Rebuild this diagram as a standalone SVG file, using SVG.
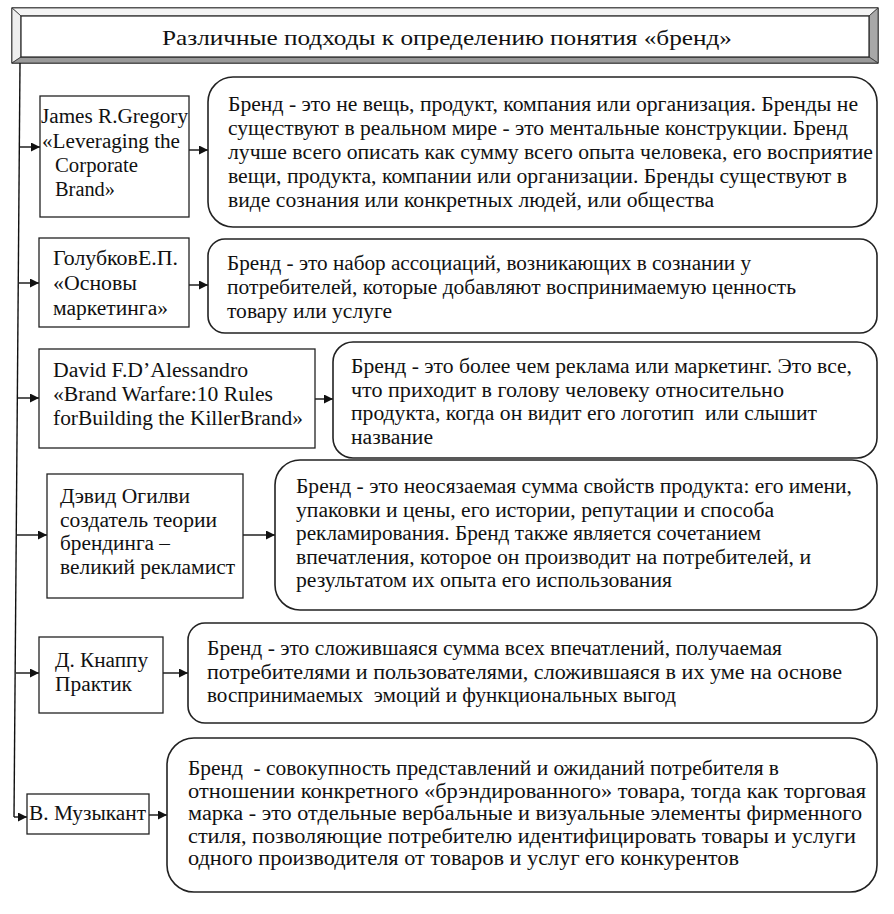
<svg xmlns="http://www.w3.org/2000/svg" width="894" height="914" viewBox="0 0 894 914">
<defs>
<style>
text{font-family:"Liberation Serif","Times New Roman",serif;fill:#111;}
.t{font-size:20px;}
.l{font-size:20px;}
.ttl{font-size:22px;}
.box{fill:#fff;stroke:#222;stroke-width:1.3;}
.rr{fill:#fff;stroke:#222;stroke-width:1.6;}
.c{stroke:#111;stroke-width:1.4;fill:none;}
.a{stroke:#111;stroke-width:1.4;fill:none;marker-end:url(#ah);}
</style>
<marker id="ah" markerUnits="userSpaceOnUse" markerWidth="10" markerHeight="10" refX="9" refY="4.5" orient="auto">
<path d="M0,0 L9,4.5 L0,9 z" fill="#111"/>
</marker>
</defs>
<rect width="894" height="914" fill="#fff"/>

<g id="title">
<rect x="12" y="8" width="866" height="55" fill="#fff" stroke="#222" stroke-width="1.3"/>
<polygon points="12,8 878,8 869,16 21,16" fill="#f4f4f4" stroke="#333" stroke-width="0.8"/>
<polygon points="12,8 21,16 21,57 12,63" fill="#eeeeee" stroke="#333" stroke-width="0.8"/>
<polygon points="878,8 878,63 869,57 869,16" fill="#a8a8a8" stroke="#333" stroke-width="0.8"/>
<polygon points="12,63 878,63 869,57 21,57" fill="#9a9a9a" stroke="#333" stroke-width="0.8"/>
<rect x="21" y="16" width="848" height="41" fill="#fff" stroke="#222" stroke-width="1.2"/>
<text class="ttl" x="162" y="45" textLength="570" lengthAdjust="spacingAndGlyphs">Различные подходы к определению понятия «бренд»</text>
</g>

<g id="connectors">
<polyline class="c" points="20,63 14,817"/>
<line class="a" x1="19.4" y1="147" x2="40" y2="147"/>
<line class="a" x1="19" y1="283" x2="39" y2="283"/>
<line class="a" x1="18" y1="398" x2="39" y2="398"/>
<line class="a" x1="17" y1="535" x2="47" y2="535"/>
<line class="a" x1="16" y1="673" x2="39" y2="673"/>
<line class="a" x1="14" y1="817" x2="27" y2="817"/>
<line class="a" x1="189" y1="150" x2="208" y2="150"/>
<line class="a" x1="189" y1="285" x2="208" y2="285"/>
<line class="a" x1="315" y1="399" x2="333" y2="399"/>
<line class="a" x1="243" y1="535" x2="275" y2="535"/>
<line class="a" x1="163" y1="673" x2="188" y2="673"/>
<line class="a" x1="149" y1="815" x2="167" y2="815"/>
</g>

<g id="src1">
<rect class="box" x="40" y="96" width="149" height="121"/>
<text class="l" x="41" y="123" textLength="147" lengthAdjust="spacingAndGlyphs">James R.Gregory</text>
<text class="l" x="42" y="148" textLength="138" lengthAdjust="spacingAndGlyphs">«Leveraging the</text>
<text class="l" x="55" y="172" textLength="83" lengthAdjust="spacingAndGlyphs">Corporate</text>
<text class="l" x="55" y="196" textLength="60" lengthAdjust="spacingAndGlyphs">Brand»</text>
</g>
<g id="def1">
<rect class="rr" x="208" y="77" width="669" height="150" rx="25" ry="25"/>
<text class="t" x="228" y="111" textLength="630" lengthAdjust="spacingAndGlyphs">Бренд - это не вещь, продукт, компания или организация. Бренды не</text>
<text class="t" x="228" y="135" textLength="620" lengthAdjust="spacingAndGlyphs">существуют в реальном мире - это ментальные конструкции. Бренд</text>
<text class="t" x="228" y="159" textLength="645" lengthAdjust="spacingAndGlyphs">лучше всего описать как сумму всего опыта человека, его восприятие</text>
<text class="t" x="228" y="183" textLength="619" lengthAdjust="spacingAndGlyphs">вещи, продукта, компании или организации. Бренды существуют в</text>
<text class="t" x="228" y="207" textLength="486" lengthAdjust="spacingAndGlyphs">виде сознания или конкретных людей, или общества</text>
</g>

<g id="src2">
<rect class="box" x="39" y="238" width="150" height="89"/>
<text class="l" x="53" y="265" textLength="125" lengthAdjust="spacingAndGlyphs">ГолубковЕ.П.</text>
<text class="l" x="53" y="290" textLength="84" lengthAdjust="spacingAndGlyphs">«Основы</text>
<text class="l" x="53" y="315" textLength="115" lengthAdjust="spacingAndGlyphs">маркетинга»</text>
</g>
<g id="def2">
<rect class="rr" x="208" y="239" width="669" height="94" rx="17" ry="17"/>
<text class="t" x="227" y="270" textLength="524" lengthAdjust="spacingAndGlyphs">Бренд - это набор ассоциаций, возникающих в сознании у</text>
<text class="t" x="227" y="294" textLength="569" lengthAdjust="spacingAndGlyphs">потребителей, которые добавляют воспринимаемую ценность</text>
<text class="t" x="227" y="318" textLength="165" lengthAdjust="spacingAndGlyphs">товару или услуге</text>
</g>

<g id="src3">
<rect class="box" x="39" y="349" width="276" height="99"/>
<text class="l" x="53" y="377" textLength="195" lengthAdjust="spacingAndGlyphs">David F.D’Alessandro</text>
<text class="l" x="53" y="401" textLength="220" lengthAdjust="spacingAndGlyphs">«Brand Warfare:10 Rules</text>
<text class="l" x="53" y="425" textLength="250" lengthAdjust="spacingAndGlyphs">forBuilding the KillerBrand»</text>
</g>
<g id="def3">
<rect class="rr" x="333" y="342" width="544" height="116" rx="20" ry="20"/>
<text class="t" x="351" y="373" textLength="501" lengthAdjust="spacingAndGlyphs">Бренд - это более чем реклама или маркетинг. Это все,</text>
<text class="t" x="351" y="397" textLength="433" lengthAdjust="spacingAndGlyphs">что приходит в голову человеку относительно</text>
<text class="t" x="351" y="420" textLength="466" lengthAdjust="spacingAndGlyphs" xml:space="preserve">продукта, когда он видит его логотип  или слышит</text>
<text class="t" x="351" y="444" textLength="82" lengthAdjust="spacingAndGlyphs">название</text>
</g>

<g id="src4">
<rect class="box" x="47" y="474" width="196" height="124"/>
<text class="l" x="60" y="503" textLength="130" lengthAdjust="spacingAndGlyphs">Дэвид Огилви</text>
<text class="l" x="60" y="527" textLength="157" lengthAdjust="spacingAndGlyphs">создатель теории</text>
<text class="l" x="60" y="550" textLength="110" lengthAdjust="spacingAndGlyphs">брендинга –</text>
<text class="l" x="60" y="574" textLength="175" lengthAdjust="spacingAndGlyphs">великий рекламист</text>
</g>
<g id="def4">
<rect class="rr" x="275" y="460" width="602" height="150" rx="25" ry="25"/>
<text class="t" x="296" y="493" textLength="556" lengthAdjust="spacingAndGlyphs">Бренд - это неосязаемая сумма свойств продукта: его имени,</text>
<text class="t" x="296" y="517" textLength="478" lengthAdjust="spacingAndGlyphs">упаковки и цены, его истории, репутации и способа</text>
<text class="t" x="296" y="540" textLength="465" lengthAdjust="spacingAndGlyphs">рекламирования. Бренд также является сочетанием</text>
<text class="t" x="296" y="564" textLength="515" lengthAdjust="spacingAndGlyphs">впечатления, которое он производит на потребителей, и</text>
<text class="t" x="296" y="587" textLength="376" lengthAdjust="spacingAndGlyphs">результатом их опыта его использования</text>
</g>

<g id="src5">
<rect class="box" x="39" y="637" width="124" height="76"/>
<text class="l" x="55" y="667" textLength="93" lengthAdjust="spacingAndGlyphs">Д. Кнаппу</text>
<text class="l" x="55" y="691" textLength="77" lengthAdjust="spacingAndGlyphs">Практик</text>
</g>
<g id="def5">
<rect class="rr" x="188" y="623" width="689" height="100" rx="17" ry="17"/>
<text class="t" x="207" y="655" textLength="575" lengthAdjust="spacingAndGlyphs">Бренд - это сложившаяся сумма всех впечатлений, получаемая</text>
<text class="t" x="207" y="679" textLength="635" lengthAdjust="spacingAndGlyphs">потребителями и пользователями, сложившаяся в их уме на основе</text>
<text class="t" x="207" y="702" textLength="469" lengthAdjust="spacingAndGlyphs" xml:space="preserve">воспринимаемых  эмоций и функциональных выгод</text>
</g>

<g id="src6">
<rect class="box" x="27" y="794" width="122" height="40"/>
<text class="l" x="29" y="820" textLength="117" lengthAdjust="spacingAndGlyphs">В. Музыкант</text>
</g>
<g id="def6">
<rect class="rr" x="167" y="738" width="710" height="154" rx="27" ry="27"/>
<text class="t" x="188" y="775" textLength="591" lengthAdjust="spacingAndGlyphs" xml:space="preserve">Бренд  - совокупность представлений и ожиданий потребителя в</text>
<text class="t" x="188" y="797.5" textLength="678" lengthAdjust="spacingAndGlyphs">отношении конкретного «брэндированного» товара, тогда как торговая</text>
<text class="t" x="188" y="820" textLength="674" lengthAdjust="spacingAndGlyphs">марка - это отдельные вербальные и визуальные элементы фирменного</text>
<text class="t" x="188" y="842.5" textLength="668" lengthAdjust="spacingAndGlyphs">стиля, позволяющие потребителю идентифицировать товары и услуги</text>
<text class="t" x="188" y="865" textLength="551" lengthAdjust="spacingAndGlyphs">одного производителя от товаров и услуг его конкурентов</text>
</g>
</svg>
